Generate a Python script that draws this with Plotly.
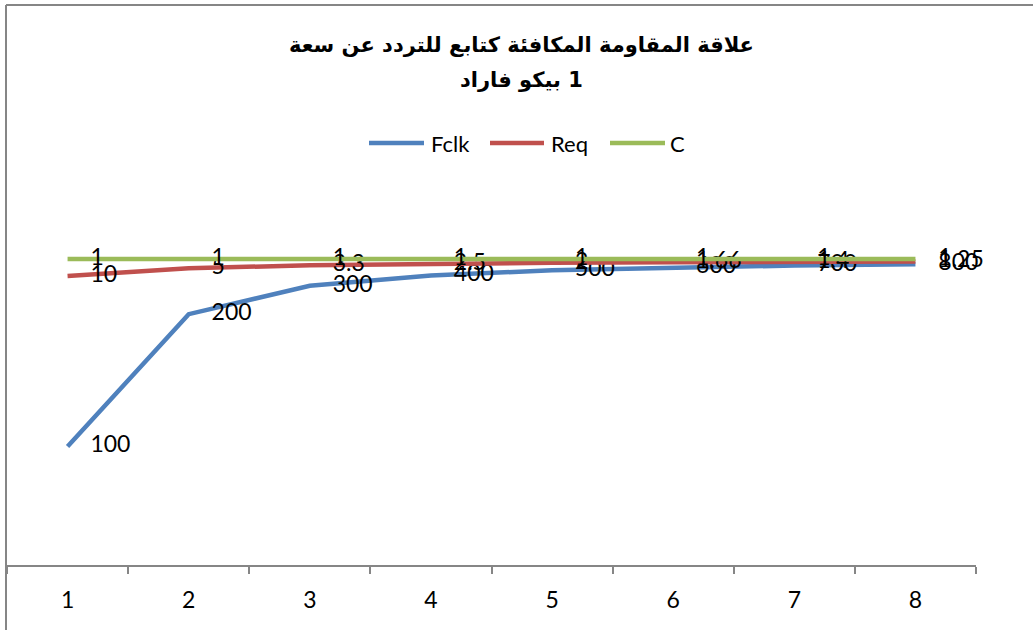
import plotly.graph_objects as go

# Category labels on the horizontal axis
categories = ["1", "2", "3", "4", "5", "6", "7", "8"]

# Series values (shown as data labels, plotted as a 100% stacked line)
fclk = [100, 200, 300, 400, 500, 600, 700, 800]
req = [10, 5, 3.3, 2.5, 2, 1.66, 1.4, 1.25]
cap = [1, 1, 1, 1, 1, 1, 1, 1]

series_names = ["Fclk", "Req", "C"]
series_colors = ["#4F81BD", "#C0504D", "#9BBB59"]

title_line1 = "علاقة المقاومة المكافئة كتابع للتردد عن سعة"
title_line2 = "\u200f1 بيكو فاراد"

W, H = 1033, 630
# plot area in pixels
L, R, T, B = 7, 976, 190, 565
Y_LO, Y_HI = 0.8383, 1.0365


def px(x):
    return (x - L) / (R - L)


def py(y):
    return (B - y) / (B - T)


def fmt(v):
    return f"{v:g}"


fig = go.Figure()

for i, (name, vals, color) in enumerate(zip(series_names, [fclk, req, cap], series_colors)):
    fig.add_trace(go.Scatter(
        x=categories,
        y=vals,
        name=name,
        mode="lines+markers+text",
        stackgroup="one",
        groupnorm="fraction" if i == 0 else None,
        fill="none",
        line=dict(color=color, width=4.5),
        marker=dict(size=35, opacity=0, color=color),
        text=[fmt(v) for v in vals],
        textposition="middle right",
        textfont=dict(family="Lato", size=23, color="black"),
        cliponaxis=False,
        showlegend=False,
        hoverinfo="skip",
    ))

shapes = []
annotations = []

# chart area border (left and top edges)
border = "#868686"
shapes.append(dict(type="line", xref="paper", yref="paper",
                   x0=px(6), x1=px(6), y0=py(5), y1=py(H + 5),
                   line=dict(color=border, width=2)))
shapes.append(dict(type="line", xref="paper", yref="paper",
                   x0=px(6), x1=px(W + 5), y0=py(5), y1=py(5),
                   line=dict(color=border, width=2)))

# legend
legend_items = [(369, 424, 429), (490, 544, 549), (610, 665, 668)]
for (x0, x1, tx), name, color in zip(legend_items, series_names, series_colors):
    shapes.append(dict(type="line", xref="paper", yref="paper",
                       x0=px(x0), x1=px(x1), y0=py(143), y1=py(143),
                       line=dict(color=color, width=4.5)))
    annotations.append(dict(text=name, xref="paper", yref="paper",
                            x=px(tx), y=py(143), xanchor="left", yanchor="middle",
                            showarrow=False,
                            font=dict(family="Lato", size=22, color="black")))

# title
for text, yy in [(title_line1, 45), (title_line2, 80)]:
    annotations.append(dict(text=f"<b>{text}</b>", xref="paper", yref="paper",
                            x=px(521), y=py(yy), xanchor="center", yanchor="middle",
                            showarrow=False,
                            font=dict(family="DejaVu Sans", size=21, color="black")))

fig.update_layout(
    width=W, height=H,
    margin=dict(l=L, r=W - R, t=T, b=H - B, pad=0),
    paper_bgcolor="white",
    plot_bgcolor="white",
    shapes=shapes,
    annotations=annotations,
    xaxis=dict(
        type="category",
        range=[-0.5, 7.5],
        tickson="boundaries",
        ticks="outside",
        ticklen=7,
        tickwidth=2,
        tickcolor=border,
        showline=True,
        linecolor=border,
        linewidth=2,
        showgrid=False,
        zeroline=False,
        ticklabelstandoff=13,
        tickfont=dict(family="Lato", size=23, color="black"),
    ),
    yaxis=dict(
        range=[Y_LO, Y_HI],
        showline=False,
        showticklabels=False,
        showgrid=False,
        zeroline=False,
        ticks="",
    ),
)

fig.write_html("out.html")
